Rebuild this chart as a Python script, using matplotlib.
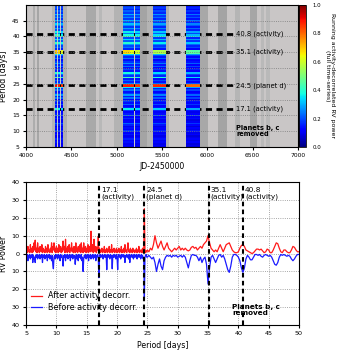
import numpy as np
import matplotlib
matplotlib.use('Agg')
import matplotlib.pyplot as plt
from matplotlib.ticker import FuncFormatter

# ---- top panel: running periodogram ----
# row centres every 0.5 d from 5 to 50
row_power = [0.10, 0.12, 0.10, 0.14, 0.11, 0.16, 0.12, 0.10, 0.15, 0.12,
             0.18, 0.12, 0.14, 0.10, 0.16, 0.22, 0.13, 0.11, 0.17, 0.13,
             0.24, 0.15, 0.12, 0.18, 0.36, 0.16, 0.13, 0.22, 0.14, 0.18,
             0.12, 0.24, 0.15, 0.28, 0.18, 0.14, 0.24, 0.17, 0.36, 0.30,
             0.26, 0.16, 0.22, 0.15, 0.42, 0.18, 0.24, 0.38, 0.15, 0.20,
             0.14, 0.24, 0.16, 0.27, 0.18, 0.14, 0.24, 0.16, 0.22, 0.34,
             0.30, 0.30, 0.16, 0.24, 0.20, 0.28, 0.40, 0.22, 0.34, 0.20,
             0.44, 0.38, 0.24, 0.36, 0.20, 0.28, 0.18, 0.26, 0.32, 0.20,
             0.30, 0.18, 0.26, 0.20, 0.30, 0.18, 0.22, 0.16, 0.20, 0.18,
             0.16]
row_edges = np.arange(len(row_power) + 1) * 0.5 + 4.75

# observing seasons (JD-2450000): start, end, gain
col_start = [4320, 4350, 4382, 5070, 5150, 5205, 5395, 5762, 5835]
col_end   = [4342, 4376, 4410, 5143, 5196, 5256, 5544, 5828, 5918]
col_gain  = [1.05, 1.00, 0.95, 1.00, 0.98, 0.95, 0.90, 0.80, 0.80]

# strong narrow peaks in each season column
peak_period = [24.5, 35.1]
peak_halfwidth = [0.42, 0.5]
peak_power = [[0.90, 0.88, 0.86, 0.88, 0.87, 0.85, 0.87, 0.80, 0.80],
              [0.70, 0.68, 0.63, 0.68, 0.63, 0.60, 0.56, 0.46, 0.45]]

# grey stripes in the background
stripe_start = [4080, 4125, 4290, 4411, 4660, 4805, 4970, 5257, 5330, 5544, 5918, 6117, 6304, 6470, 6590, 6650]
stripe_end   = [4103, 4140, 4320, 4455, 4768, 4840, 5070, 5330, 5395, 5580, 6007, 6216, 6360, 6550, 6630, 6690]
stripe_shade = ['#adadad', '#a6a6a6', '#b4b4b4', '#b0b0b0', '#a9a9a9', '#b8b8b8', '#b3b3b3', '#a4a4a4',
                '#b4b4b4', '#b0b0b0', '#a8a8a8', '#a4a4a4', '#b5b5b5', '#a6a6a6', '#b9b9b9', '#b9b9b9']

act_periods = [17.1, 24.5, 35.1, 40.8]
act_labels = ['17.1 (activity)', '24.5 (planet d)', '35.1 (activity)', '40.8 (activity)']
act_labels2 = ['17.1\n(activity)', '24.5\n(planet d)', '35.1\n(activity)', '40.8\n(activity)']

# ---- bottom panel: periodograms ----
# fine grid 5.0 .. 24.9 step 0.1
red_fine = [1, 3, 0.5, 4, 1, 2, 0.5, 5, 1, 3,
            0.5, 4, 1, 6, 2, 7.5, 1, 3, 0.5, 6,
            1, 3, 0.5, 4, 2, 1, 5, 0.5, 3, 1,
            2, 0.5, 4, 1, 3, 0.5, 5, 1, 2, 0.5,
            3, 1, 6, 0.5, 4, 2, 6, 1, 3, 0.5,
            4, 1, 3, 0.5, 5, 2, 1, 4, 0.5, 3,
            1, 7, 2, 4, 0.5, 8, 1, 3, 0.5, 4,
            1, 5, 0.5, 3, 2, 6, 1, 3, 0.5, 4,
            2, 0.5, 6, 1, 3, 0.5, 4, 2, 1, 5,
            0.5, 6, 1, 3, 0.5, 6, 2, 1, 4, 0.5,
            3, 1, 5, 0.5, 4, 2, 1, 12.5, 3, 1,
            5, 0.5, 8, 2, 1, 4, 0.5, 3, 2, 9.5,
            1, 3, 0.5, 2, 1, 3, 0.5, 2, 1, 4,
            0.5, 2, 1, 3, 0.5, 2, 1, 4, 0.5, 2,
            1, 5, 0.5, 2, 1, 3, 0.5, 2, 1, 3,
            0.5, 2, 1, 3, 0.5, 2, 1, 4, 0.5, 2,
            1, 3, 0.5, 5, 1, 2, 0.5, 3, 6, 1,
            2, 0.5, 3, 1, 2, 0.5, 3, 1, 2, 0.5,
            2, 1, 3, 0.5, 2, 1, 4, 0.5, 2, 1,
            2, 0.5, 3, 1, 2, 25, 2, 0.5, 1.5, 1]
blue_fine = [-1, -3, -0.5, -4, -1, -2, -0.5, -3, -1, -2,
             -0.5, -5, -1, -3, -2, -5, -1, -2, -0.5, -3,
             -1, -2, -0.5, -3, -1, -2, -0.5, -5, -1, -2,
             -0.5, -3, -1, -2, -0.5, -4, -1, -2, -0.5, -3,
             -1, -2, -4, -1, -6, -8.5, -2, -1, -3, -0.5,
             -2, -1, -3, -0.5, -2, -1, -4, -0.5, -2, -1,
             -3, -7, -1, -2, -0.5, -4, -1, -2, -0.5, -3,
             -1, -2, -0.5, -4, -1, -2, -0.5, -3, -1, -2,
             -1, -6, -2, -0.5, -3, -1, -4, -0.5, -2, -1,
             -3, -0.5, -4, -2, -10, -3, -1, -2, -0.5, -3,
             -1, -2, -0.5, -4, -1, -2, -0.5, -3, -1, -2,
             -0.5, -3, -1, -2, -0.5, -4, -1, -2, -0.5, -2,
             -13.5, -3, -0.5, -2, -1, -2, -0.5, -3, -1, -2,
             -0.5, -2, -1, -9, -2, -0.5, -2, -1, -3, -0.5,
             -2, -1, -8.5, -1, -2, -0.5, -2, -1, -3, -0.5,
             -2, -9, -1, -0.5, -2, -1, -3, -0.5, -2, -1,
             -0.5, -2, -1, -5, -1, -2, -0.5, -2, -1, -3,
             -0.5, -5, -1, -2, -0.5, -2, -1, -3, -0.5, -2,
             -1, -2, -0.5, -3, -1, -2, -0.5, -2, -1, -3,
             -0.5, -2, -1, -3, -2, -26, -2, -1, -0.5, -2]
# coarse grid 25.0 .. 50.0 step 0.25
red_coarse = [2, 1, 3, 2, 5, 10, 6, 3, 5, 7, 4, 2, 4, 6, 3, 2, 1, 2, 3, 2,
              3, 4, 2, 3, 2, 3, 2, 1.5, 2, 3.5, 4, 3, 3.5, 2, 3, 4, 3, 5, 6, 7,
              10, 6, 3, 2, 1, 2, 1, 3, 5, 3, 1, 3, 5, 5.5, 6, 4, 2, 1, 0.5, 0.5,
              1, 3, 4.5, 5, 4, 2, 1.5, 1, 0.5, 0, 0.5, 1.5, 2.5, 2.5, 2, 2.5, 1.5, 0.5, 1, 2.5,
              2, 0.5, 0.5, 2, 4, 6, 5.5, 3, 1, 0.5, 2, 2, 1, 0.5, 0.5, 2, 4, 3.5, 2, 1,
              1]
blue_coarse = [-2, -1, -2, -3, -2, -5, -10, -6, -3, -7, -9, -4, -2, -1, -1.5, -1, -2, -1, -1.5, -1,
               -2, -1.5, -1, -2, -1, -2, -5, -8, -4, -1, -0.5, -1, -1, -2, -4, -2, -5, -3, -2, -6,
               -17, -8, -2, -1, -3, -5, -3, -1, -0.5, -2, -1, -3, -6, -9, -10.5, -7, -2, -0.5, -0.5, -1,
               -2, -4, -8, -10.5, -8, -3, -1, -2, -3.5, -3.5, -2, -0.5, -0.5, -1, -0.5, -1.5, -2, -1, -0.5, -1,
               -1.5, -1, -2, -4, -6, -6.5, -5, -2, -0.5, -1, -0.5, -1, -1.5, -1, -1.5, -3, -4, -3, -1.5, -0.5,
               -0.5]

red_p = np.concatenate([5.0 + 0.1 * np.arange(len(red_fine)), 25.0 + 0.25 * np.arange(len(red_coarse))])
blue_p = np.concatenate([5.0 + 0.1 * np.arange(len(blue_fine)), 25.0 + 0.25 * np.arange(len(blue_coarse))])
red_all = red_fine + red_coarse
blue_all = blue_fine + blue_coarse

TICK = 4.3
LAB = 5.6

fig = plt.figure(figsize=(3.39, 3.5), dpi=100)
ax1 = fig.add_axes([0.077, 0.58, 0.802, 0.406])
cax = fig.add_axes([0.882, 0.58, 0.021, 0.406])
ax2 = fig.add_axes([0.077, 0.071, 0.805, 0.409])

ax1.set_facecolor('#c9c6c6')
for x0, x1, c in zip(stripe_start, stripe_end, stripe_shade):
    ax1.axvspan(x0, x1, color=c, lw=0, zorder=0)
ax1.grid(True, axis='y', ls=':', color='#7a7a7a', lw=0.6, zorder=0.5)
# dashed lines sit under the seasons
for p, lab in zip(act_periods, act_labels):
    ax1.plot([4000, 6310], [p, p], color='k', ls=(0, (2.2, 1.6)), lw=2, zorder=0.8)
    ax1.text(6320, p, lab, fontsize=4.9, va='center', ha='left', zorder=4)
mesh = None
for i, (x0, x1, g) in enumerate(zip(col_start, col_end, col_gain)):
    vals = np.array(row_power)[:, None] * g
    mesh = ax1.pcolormesh([x0, x1], row_edges, vals, cmap='jet', vmin=0, vmax=1, zorder=1)
    for p, hw, pw in zip(peak_period, peak_halfwidth, peak_power):
        ax1.pcolormesh([x0, x1], [p - hw, p + hw], [[pw[i]]], cmap='jet', vmin=0, vmax=1, zorder=1.2)
ax1.text(6320, 10, 'Planets b, c\nremoved', fontsize=4.8, fontweight='bold', va='center', ha='left',
         linespacing=0.95)
ax1.set_xlim(4000, 7000)
ax1.set_ylim(5, 50)
ax1.set_xticks(np.arange(4000, 7001, 500))
ax1.set_yticks(np.arange(5, 46, 5))
ax1.set_xlabel('JD-2450000', fontsize=LAB, labelpad=3)
ax1.set_ylabel('Period [days]', fontsize=LAB, labelpad=3)
ax1.tick_params(labelsize=TICK, length=2, pad=2.5)

cb = fig.colorbar(mesh, cax=cax)
cb.set_ticks([0.0, 0.2, 0.4, 0.6, 0.8, 1.0])
cb.ax.tick_params(labelsize=3.9, length=0, pad=4.5)
cb.set_label('Running activity-decorrelated RV power\n(full time-series)', fontsize=4.5, rotation=270,
             labelpad=10, linespacing=1.0)
cb.outline.set_linewidth(0.6)

# bottom
ax2.plot(red_p, red_all, color='#ff1a1a', lw=0.9, label='After activity decorr.')
ax2.plot(blue_p, blue_all, color='#1a1aff', lw=0.9, label='Before activity decorr.')
for p, lab in zip(act_periods, act_labels2):
    ax2.axvline(p, color='k', ls=(0, (2.2, 1.6)), lw=1.5, zorder=3)
    ax2.text(p + 0.3, 37, lab, fontsize=5.3, va='top', ha='left', linespacing=1.1)
ax2.text(39.0, -31.5, 'Planets b, c\nremoved', fontsize=5.2, fontweight='bold', va='center', ha='left',
         linespacing=0.95)
ax2.set_xlim(5, 50)
ax2.set_ylim(-40, 40)
ax2.set_xticks(np.arange(5, 51, 5))
ax2.set_yticks(np.arange(-40, 41, 10))
ax2.yaxis.set_major_formatter(FuncFormatter(lambda v, pos: '%d' % abs(v)))
ax2.grid(True, ls=':', color='#8a8a8a', lw=0.6)
ax2.set_xlabel('Period [days]', fontsize=LAB, labelpad=3)
ax2.set_ylabel('RV Power', fontsize=LAB, labelpad=3)
ax2.tick_params(labelsize=TICK + 0.3, length=2, pad=2.5)
ax2.legend(loc='lower left', bbox_to_anchor=(-0.01, 0.04), fontsize=5.8, frameon=False,
           handlelength=1.4, handletextpad=0.7, labelspacing=0.35)

fig.savefig('out.png', dpi=100)
